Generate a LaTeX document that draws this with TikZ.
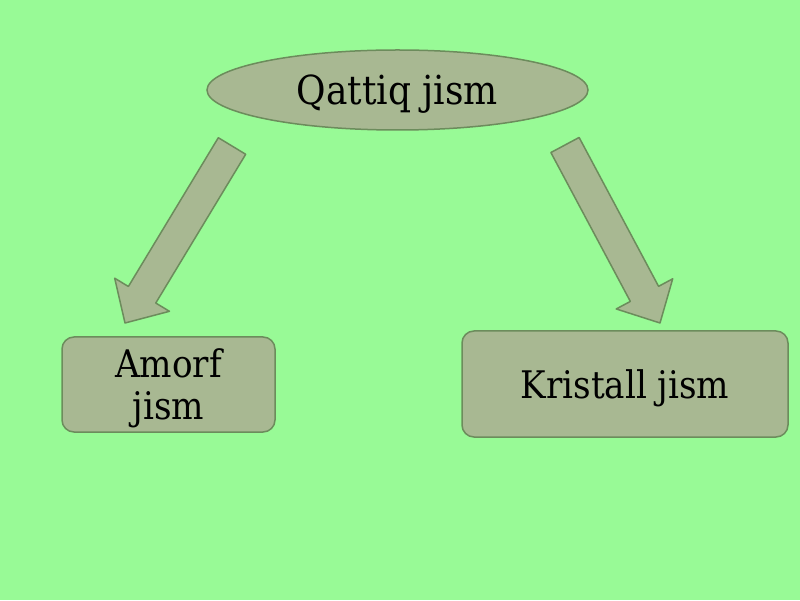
\documentclass[tikz,border=0pt]{standalone}
\usepackage{fontspec}
\setmainfont{DejaVu Serif Condensed}
\usetikzlibrary{shapes.geometric,calc}

\definecolor{bggreen}{RGB}{152,250,150}
\definecolor{boxfill}{RGB}{168,184,146}
\definecolor{boxline}{RGB}{108,140,92}

\tikzset{
  blob/.style={ellipse, draw=boxline, fill=boxfill, line width=1.5pt,
    minimum width=381pt, minimum height=80pt, text depth=0pt,
    font=\fontsize{40}{42}\selectfont},
  card/.style={rectangle, rounded corners=12pt, draw=boxline, fill=boxfill,
    line width=1.5pt, align=center, text depth=0pt, font=\fontsize{38}{42}\selectfont},
  fatarrow/.style={draw=boxline, fill=boxfill, line width=1.5pt, line join=round}
}

% Pfeil als Polygon von #1 (Ende) nach #2 (Spitze)
\newcommand{\fatarrow}[2]{%
  \draw[fatarrow]
    ($(#1)!16pt!90:(#2)$) --
    ($($(#2)!33pt!(#1)$)!16pt!90:(#2)$) --
    ($($(#2)!33pt!(#1)$)!32pt!90:(#2)$) --
    (#2) --
    ($($(#2)!33pt!(#1)$)!32pt!-90:(#2)$) --
    ($($(#2)!33pt!(#1)$)!16pt!-90:(#2)$) --
    ($(#1)!16pt!-90:(#2)$) -- cycle;}

\begin{document}
\begin{tikzpicture}[x=1pt, y=1pt]

% Hintergrund
\fill[bggreen] (0,0) rectangle (800,600);
\useasboundingbox (0,0) rectangle (800,600);

% Oben
\node[blob] (solid) at (397.5,510) {Qattiq jism};

% Unten links und rechts
\node[card, minimum width=213pt, minimum height=95pt] (amorph) at (168.5,215.5) {Amorf\\jism};
\node[card, minimum width=326pt, minimum height=106pt] (crystal) at (625,216) {Kristall jism};

% Pfeilenden
\coordinate (l-tail) at (232,454);
\coordinate (l-tip) at (125,277);
\coordinate (r-tail) at (565,455);
\coordinate (r-tip) at (660,277);

% dicke Pfeile
\fatarrow{l-tail}{l-tip}
\fatarrow{r-tail}{r-tip}

\end{tikzpicture}
\end{document}
